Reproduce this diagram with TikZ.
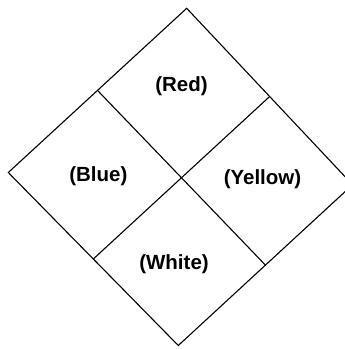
\documentclass[tikz,border=0pt]{standalone}
\usepackage{fontspec}
\setmainfont{Liberation Sans}
\usetikzlibrary{calc}
\tikzset{
  lado/.style={black, line width=1.1pt, line join=miter},
  rotulo/.style={font=\fontsize{20.5}{24}\selectfont\bfseries, inner sep=0pt}
}

\begin{document}
\begin{tikzpicture}[x=1pt, y=-1pt]
        \useasboundingbox (0,0) rectangle (345,349);
        % vertices of the outer square
        \coordinate (top) at (186.7,8.3);
        \coordinate (left) at (8.3,172.5);
        \coordinate (bottom) at (178.3,345.5);
        \coordinate (right) at (352.6,184.7);
        \coordinate (nw) at ($(top)!0.5!(left)$);
        \coordinate (ne) at ($(top)!0.5!(right)$);
        \coordinate (sw) at ($(left)!0.5!(bottom)$);
        \coordinate (se) at ($(bottom)!0.5!(right)$);
        \draw[lado] (top) -- (left) -- (bottom) -- (right) -- cycle;
        \draw[lado] (nw) -- (se);
        \draw[lado] (ne) -- (sw);
        \node[rotulo] (red) at (181.5,86) {(Red)};
        \node[rotulo] (blue) at (98.3,176) {(Blue)};
        \node[rotulo] (yellow) at (262.5,179) {(Yellow)};
        \node[rotulo] (white) at (174,264) {(White)};
      \end{tikzpicture}
\end{document}
